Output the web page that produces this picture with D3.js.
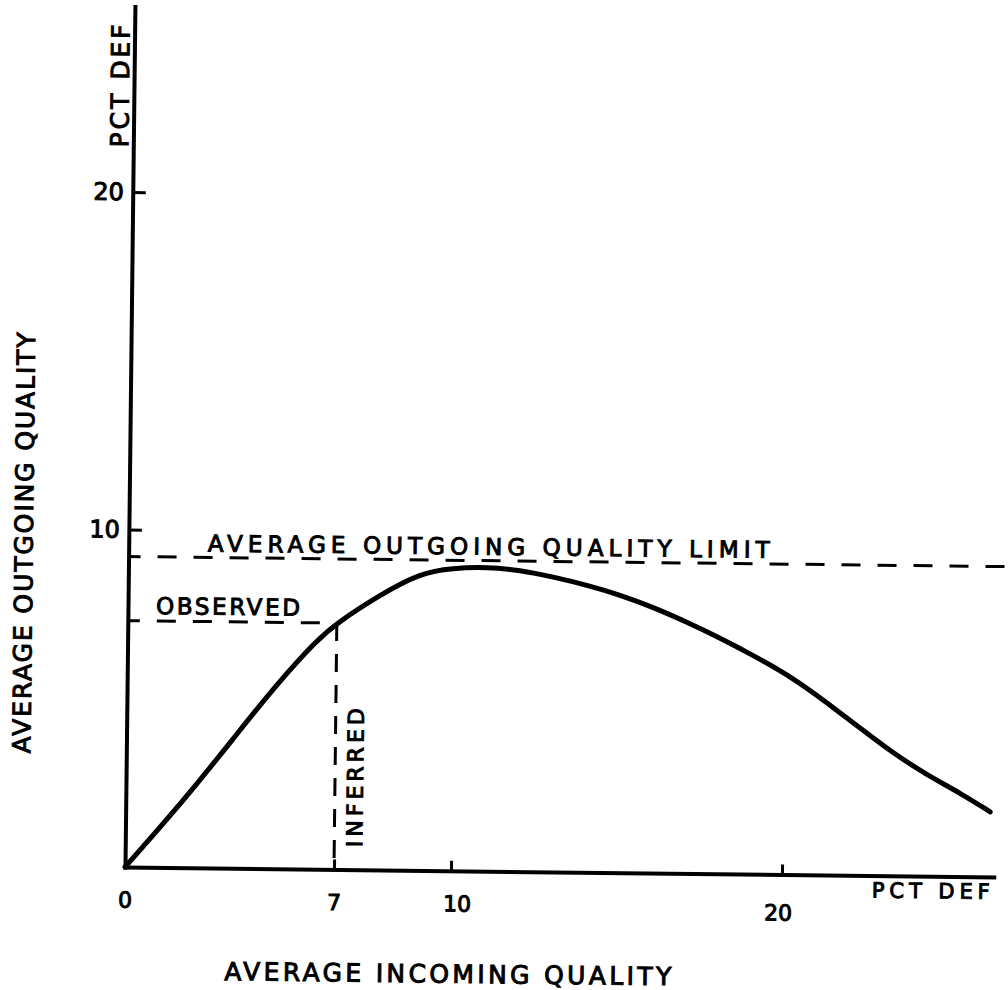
<!DOCTYPE html>
<html>
<head>
<meta charset="utf-8">
<script src="https://cdn.jsdelivr.net/npm/d3@7"></script>
<style>
  html, body { margin: 0; padding: 0; background: #fff; }
  svg { display: block; }
  text { font-family: "DejaVu Sans", sans-serif; fill: #000; }
</style>
</head>
<body>
<div id="chart"></div>
<script>
// --- data ---
// incoming quality (pct def) vs average outgoing quality (pct def)
const aiq = [0, 2.05, 3.8, 5.02, 6.34, 7, 8.1, 9.12, 9.96, 10.98, 11.98, 12.98, 14.01, 15.01,
             16.01, 17.04, 18.05, 19.05, 20.27, 21.31, 22.31, 23.31, 24.35, 25.35, 26.27];
const aoq = [0, 2.1, 4.1, 5.47, 6.79, 7.3, 8.15, 8.81, 8.97, 9.01, 8.93, 8.74, 8.51, 8.23,
             7.88, 7.45, 6.99, 6.49, 5.83, 5.1, 4.37, 3.64, 3.0, 2.48, 1.93];

const xTicks = [0, 7, 10, 20];
const yTicks = [10, 20];
const aoqlValue = 9.2;       // average outgoing quality limit
const observed = [7, 7.3];   // observed outgoing / inferred incoming

const xMax = 26.4, yMax = 25.5;

// --- layout ---
const width = 1008, height = 990;
const origin = [125, 867];
const tilt = 0.66;   // the drawing sits slightly rotated on the page

const svg = d3.select('#chart')
  .append('svg')
  .attr('width', width)
  .attr('height', height);

svg.append('rect').attr('width', width).attr('height', height).attr('fill', '#fff');

const g = svg.append('g')
  .attr('transform', `translate(${origin[0]},${origin[1]}) rotate(${tilt})`);

// the hand drawn x axis is not evenly spaced, so the scale is piecewise
const x = d3.scaleLinear()
  .domain([0, 7, 10, 20, xMax])
  .range([0, 209, 326, 657, 868.8]);

const y = d3.scaleLinear()
  .domain([0, yMax])
  .range([0, -860.6]);

// axes (ticks point inward)
const axisX = d3.axisBottom(x)
  .tickValues(xTicks)
  .tickSizeInner(-10)
  .tickSizeOuter(0)
  .tickPadding(25)
  .tickFormat(d3.format('d'));

const axisY = d3.axisLeft(y)
  .tickValues(yTicks)
  .tickSizeInner(-13)
  .tickSizeOuter(0)
  .tickPadding(9)
  .tickFormat(d3.format('d'));

const gx = g.append('g').call(axisX);
const gy = g.append('g').call(axisY);

[gx, gy].forEach(a => {
  a.select('.domain').attr('stroke', '#000').attr('stroke-width', 4).attr('stroke-linecap', 'square');
  a.selectAll('.tick line').attr('stroke', '#000').attr('stroke-width', 3);
  a.selectAll('.tick text')
    .style('font-family', '"DejaVu Sans", sans-serif')
    .attr('fill', '#000')
    .attr('stroke', '#000').attr('stroke-width', 1);
});
gx.selectAll('.tick text').style('font-size', '22px');
gx.selectAll('.tick').filter(d => d === 0).select('line').remove();
gx.selectAll('.tick').filter(d => d === 10).select('text').attr('dx', 6);
gx.selectAll('.tick').filter(d => d === 20).select('text').attr('dx', -4).attr('dy', '0.95em');
gy.selectAll('.tick text').style('font-size', '24px');

// dashed reference lines
const dashed = (sel) => sel
  .attr('stroke', '#000')
  .attr('stroke-width', 3)
  .attr('fill', 'none');

dashed(g.append('line'))
  .attr('x1', x(0)).attr('x2', x(xMax) + 20)
  .attr('y1', y(aoqlValue)).attr('y2', y(aoqlValue))
  .attr('stroke-dasharray', '19 17')
  .attr('stroke-dashoffset', 7);

dashed(g.append('line'))
  .attr('x1', x(0)).attr('x2', x(observed[0]))
  .attr('y1', y(observed[1])).attr('y2', y(observed[1]))
  .attr('stroke-dasharray', '19 17')
  .attr('stroke-dashoffset', 7);

dashed(g.append('line'))
  .attr('x1', x(observed[0])).attr('x2', x(observed[0]))
  .attr('y1', y(observed[1])).attr('y2', y(0))
  .attr('stroke-dasharray', '18 13');

// the AOQ curve (smoothed through the hand-read points)
const lineGen = d3.line()
  .curve(d3.curveBasis)
  .x(d => x(d[0]))
  .y(d => y(d[1]));

g.append('path')
  .datum(d3.zip(aiq, aoq))
  .attr('d', lineGen)
  .attr('fill', 'none')
  .attr('stroke', '#000')
  .attr('stroke-width', 5)
  .attr('stroke-linecap', 'round')
  .attr('stroke-linejoin', 'round');

// labels
function label(txt, px, py, size, len, rot) {
  return g.append('text')
    .attr('transform', `translate(${px},${py})` + (rot ? ` rotate(${rot})` : ''))
    .attr('text-anchor', 'middle')
    .attr('textLength', len)
    .attr('lengthAdjust', 'spacing')
    .style('font-size', size + 'px')
    .attr('stroke', '#000').attr('stroke-width', 1)
    .text(txt);
}

label('AVERAGE   OUTGOING   QUALITY   LIMIT', 360, y(aoqlValue) - 6, 23, 562);
label('OBSERVED', 100, y(observed[1]) - 7, 23, 144);
label('INFERRED', x(observed[0]) + 28, -92, 22, 139, -90);

label('AVERAGE   OUTGOING   QUALITY', -96, -323, 25, 421, -90);
label('PCT  DEF', -5, -781, 25, 123, -90);
label('AVERAGE   INCOMING   QUALITY', 324, 112, 25, 447);
label('PCT  DEF', 806, 22, 21, 118);
</script>
</body>
</html>
